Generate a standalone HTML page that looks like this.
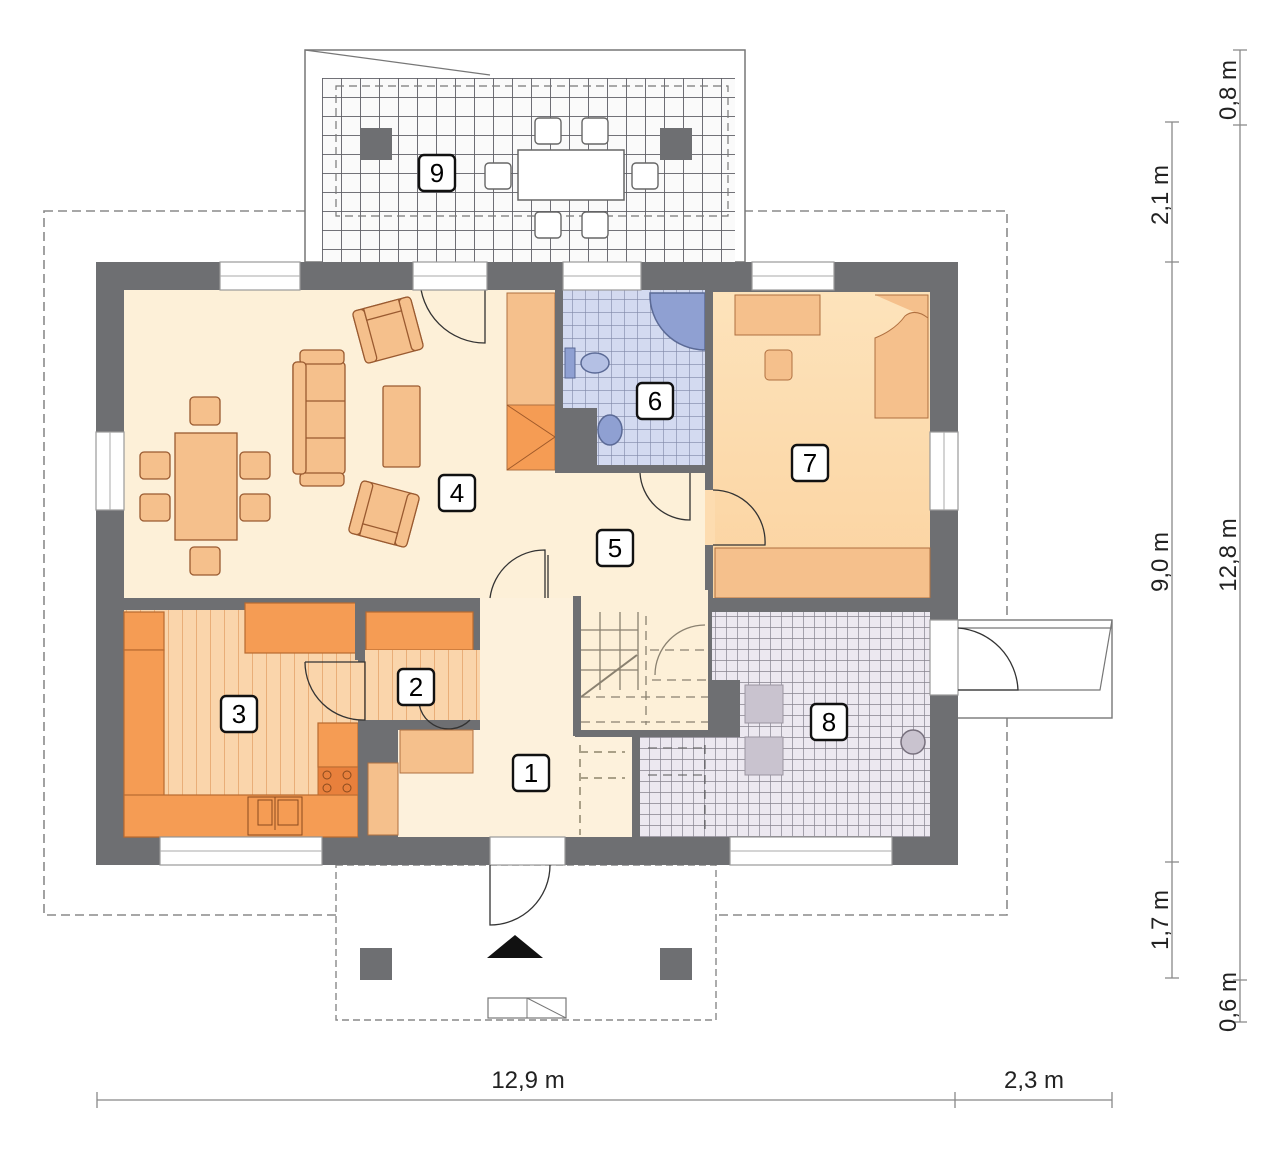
<!DOCTYPE html>
<html><head><meta charset="utf-8"><style>
html,body{margin:0;padding:0;background:#fff;}
svg{display:block;}
text{font-family:"Liberation Sans",sans-serif;}
</style></head><body>
<svg width="1280" height="1149" viewBox="0 0 1280 1149" xmlns="http://www.w3.org/2000/svg">
<defs>
<pattern id="tg" x="322" y="78" width="19" height="19" patternUnits="userSpaceOnUse"><rect width="19" height="19" fill="#fafafa"/><path d="M0 0H19M0 0V19" stroke="#5f5f66" stroke-width="1.8"/></pattern>
<pattern id="ug" width="11" height="11" patternUnits="userSpaceOnUse"><rect width="11" height="11" fill="#ece8f0"/><path d="M0 0H11M0 0V11" stroke="#86838e" stroke-width="1.4"/></pattern>
<pattern id="bg" width="13" height="13" patternUnits="userSpaceOnUse"><rect width="13" height="13" fill="#d3daf0"/><path d="M0 0H13M0 0V13" stroke="#7f88a6" stroke-width="1.2"/></pattern>
<pattern id="st" width="14" height="14" patternUnits="userSpaceOnUse"><rect width="14" height="14" fill="#fad5ab"/><path d="M0 0V14" stroke="#e5a56c" stroke-width="1.6"/></pattern>
<linearGradient id="bed" x1="0" y1="0" x2="0" y2="1"><stop offset="0" stop-color="#fde3bb"/><stop offset="1" stop-color="#fbd3a0"/></linearGradient>
<g id="arm"><rect x="-30" y="-27" width="60" height="54" rx="5" fill="#f5c08c" stroke="#9a5a30" stroke-width="1.3"/><rect x="-30" y="-27" width="12" height="54" rx="4" fill="#f5c08c" stroke="#9a5a30" stroke-width="1.3"/><rect x="18" y="-27" width="12" height="54" rx="4" fill="#f5c08c" stroke="#9a5a30" stroke-width="1.3"/><rect x="-18" y="-27" width="36" height="12" fill="#f5c08c" stroke="#9a5a30" stroke-width="1.3"/></g>
</defs>

<rect x="44" y="211" width="963" height="704" fill="none" stroke="#8a8a8a" stroke-width="1.6" stroke-dasharray="9 5"/>

<!-- terrace -->
<rect x="305" y="50" width="440" height="212" fill="#fff" stroke="#777" stroke-width="1.5"/>
<rect x="322" y="78" width="413" height="184" fill="url(#tg)"/>
<path d="M305 50L490 75" stroke="#777" stroke-width="1.2"/>
<rect x="336" y="86" width="392" height="130" fill="none" stroke="#777" stroke-dasharray="8 5" stroke-width="1.2"/>
<rect x="360" y="128" width="32" height="32" fill="#6e6f72"/>
<rect x="660" y="128" width="32" height="32" fill="#6e6f72"/>
<rect x="518" y="150" width="106" height="50" fill="#fff" stroke="#666" stroke-width="1.5"/>
<g fill="#fff" stroke="#666" stroke-width="1.4">
<rect x="535" y="118" width="26" height="26" rx="4"/><rect x="582" y="118" width="26" height="26" rx="4"/>
<rect x="535" y="212" width="26" height="26" rx="4"/><rect x="582" y="212" width="26" height="26" rx="4"/>
<rect x="485" y="163" width="26" height="26" rx="4"/><rect x="632" y="163" width="26" height="26" rx="4"/>
</g>

<!-- front porch -->
<rect x="336" y="865" width="380" height="155" fill="#fff" stroke="#888" stroke-width="1.4" stroke-dasharray="7 4"/>
<rect x="360" y="948" width="32" height="32" fill="#6e6f72"/>
<rect x="660" y="948" width="32" height="32" fill="#6e6f72"/>
<polygon points="487,958 515,935 543,958" fill="#111"/>
<rect x="488" y="998" width="78" height="20" fill="#fff" stroke="#777" stroke-width="1.2"/>
<path d="M527 998V1018M527 998L566 1018" stroke="#777"/>

<rect x="945" y="620" width="167" height="98" fill="#fff" stroke="#777" stroke-width="1.4"/>
<path d="M958 628H1112M958 690H1100L1112 620" stroke="#777" stroke-width="1.2" fill="none"/>

<rect x="96" y="262" width="862" height="603" fill="#6e6f72"/>

<rect x="124" y="290" width="581" height="308" fill="#fdf0d8"/>
<rect x="480" y="590" width="68" height="140" fill="#fdf0d8"/>
<rect x="548" y="590" width="160" height="22" fill="#fdf0d8"/>

<!-- living furniture -->
<g fill="#f5c08c" stroke="#9a5a30" stroke-width="1.3">
<rect x="175" y="433" width="62" height="107"/>
<rect x="190" y="397" width="30" height="28" rx="4"/>
<rect x="190" y="547" width="30" height="28" rx="4"/>
<rect x="140" y="452" width="30" height="27" rx="4"/>
<rect x="140" y="494" width="30" height="27" rx="4"/>
<rect x="240" y="452" width="30" height="27" rx="4"/>
<rect x="240" y="494" width="30" height="27" rx="4"/>
<rect x="293" y="362" width="52" height="112" rx="4"/>
<rect x="300" y="350" width="44" height="14" rx="4"/>
<rect x="300" y="473" width="44" height="13" rx="4"/>
<rect x="293" y="362" width="13" height="112" rx="4"/>
<path d="M306 401H345M306 438H345"/>
<rect x="383" y="386" width="37" height="81" rx="2"/>
</g>
<use href="#arm" transform="translate(388,330) rotate(-15)"/>
<use href="#arm" transform="translate(384,514) rotate(195)"/>

<rect x="507" y="293" width="48" height="112" fill="#f5c08c" stroke="#b07040"/>
<rect x="507" y="405" width="48" height="65" fill="#f59c54" stroke="#b07040"/>
<path d="M507 405L555 437L507 470" stroke="#a05a2a" fill="none"/>
<rect x="555" y="290" width="150" height="183" fill="#6e6f72"/>
<rect x="563" y="290" width="142" height="118" fill="url(#bg)"/>
<rect x="597" y="408" width="108" height="57" fill="url(#bg)"/>
<path d="M650 293H705V350A55 55 0 0 1 650 293Z" fill="#8fa0d2" stroke="#5b6a96" stroke-width="1.5"/>
<rect x="565" y="348" width="10" height="30" fill="#8fa0d2" stroke="#5b6a96"/>
<ellipse cx="595" cy="363" rx="14" ry="10" fill="#b4c0e4" stroke="#5b6a96" stroke-width="1.5"/>
<ellipse cx="610" cy="430" rx="12" ry="15" fill="#8fa0d2" stroke="#5b6a96" stroke-width="1.5"/>
<rect x="705" y="290" width="8" height="200" fill="#6e6f72"/>
<rect x="713" y="292" width="217" height="306" fill="url(#bed)"/>
<rect x="705" y="490" width="10" height="55" fill="#fddcb0"/>
<rect x="715" y="548" width="215" height="50" fill="#f5c08c" stroke="#b07040"/>
<rect x="735" y="295" width="85" height="40" fill="#f5c08c" stroke="#b07040"/>
<rect x="765" y="350" width="27" height="30" rx="4" fill="#f5c08c" stroke="#b07040"/>
<path d="M875 295H928V418H875V338Q895 330 905 316Q915 308 928 318" fill="#f5c08c" stroke="#b07040"/>

<rect x="124" y="598" width="356" height="12" fill="#6e6f72"/>
<rect x="548" y="598" width="30" height="14" fill="#6e6f72"/>
<rect x="708" y="598" width="237" height="14" fill="#6e6f72"/>

<rect x="124" y="610" width="234" height="227" fill="url(#st)"/>
<g fill="#f59c54" stroke="#b86a30" stroke-width="1.2">
<rect x="124" y="612" width="40" height="38"/>
<rect x="124" y="650" width="40" height="187"/>
<rect x="124" y="795" width="234" height="42"/>
<rect x="245" y="603" width="112" height="50"/>
<rect x="318" y="723" width="40" height="44"/>
<rect x="366" y="612" width="107" height="38"/>
</g>
<rect x="318" y="767" width="40" height="28" fill="#e8803c" stroke="#b86a30"/>
<g fill="none" stroke="#8a4a1e"><circle cx="327" cy="775" r="4"/><circle cx="347" cy="775" r="4"/><circle cx="327" cy="788" r="4"/><circle cx="347" cy="788" r="4"/></g>
<rect x="248" y="797" width="54" height="38" fill="#f59c54" stroke="#8a4a1e"/>
<path d="M275 797V830M258 800H272V825H258ZM278 800H298V825H278Z" stroke="#8a4a1e" fill="none"/>
<rect x="355" y="598" width="10" height="62" fill="#6e6f72"/>
<rect x="365" y="650" width="115" height="70" fill="url(#st)"/>
<rect x="305" y="662" width="60" height="58" fill="url(#st)"/>
<rect x="358" y="720" width="122" height="10" fill="#6e6f72"/>
<path d="M305 662H365V720A58 58 0 0 1 305 662" fill="none" stroke="#333" stroke-width="1.3"/>
<path d="M420 690A30 30 0 0 0 470 720" fill="none" stroke="#333" stroke-width="1.3"/>
<rect x="358" y="730" width="217" height="107" fill="#6e6f72"/>
<rect x="398" y="730" width="177" height="107" fill="#fdf1dc"/>
<rect x="480" y="598" width="95" height="135" fill="#fdf1dc"/>
<rect x="400" y="730" width="73" height="43" fill="#f5c08c" stroke="#b07040"/>
<rect x="368" y="763" width="30" height="72" fill="#f5c08c" stroke="#b07040"/>
<rect x="575" y="737" width="57" height="100" fill="#fdf1dc"/>
<path d="M580 745V835M580 752H625M580 778H625" stroke="#aaa088" stroke-dasharray="8 6" stroke-width="2" fill="none"/>
<path d="M490 598A55 55 0 0 1 545 550V598" fill="none" stroke="#333" stroke-width="1.3"/>
<path d="M548 555V598" stroke="#333" stroke-width="1.3"/>
<path d="M420 278A65 65 0 0 0 485 343V278" fill="none" stroke="#333" stroke-width="1.3"/>
<path d="M640 473A50 50 0 0 0 690 520V473" fill="none" stroke="#333" stroke-width="1.3"/>
<path d="M713 490A52 52 0 0 1 765 545H713" fill="none" stroke="#333" stroke-width="1.3"/>
<rect x="573" y="596" width="8" height="140" fill="#6e6f72"/>
<rect x="581" y="612" width="127" height="118" fill="#fdf0d8"/>
<g stroke="#8a8170" stroke-width="1.3" fill="none">
<path d="M581 630H638M581 650H638M581 670H638M600 612V690M620 612V690M638 612V690"/>
<path d="M581 697L637 655" stroke-width="2"/>
<path d="M646 616V725M581 697H708M581 722H708M650 650H708M652 680H708" stroke-dasharray="9 6"/>
<path d="M655 675A50 50 0 0 1 705 625" />
</g>
<polygon points="712,612 930,612 930,837 640,837 640,737 740,737 740,680 712,680" fill="url(#ug)"/>
<rect x="708" y="680" width="32" height="57" fill="#6e6f72"/>
<rect x="632" y="730" width="8" height="107" fill="#6e6f72"/>
<rect x="575" y="730" width="65" height="7" fill="#6e6f72"/>
<rect x="745" y="685" width="38" height="38" fill="#c9c3cf" stroke="#9a94a0"/>
<rect x="745" y="737" width="38" height="38" fill="#c9c3cf" stroke="#9a94a0"/>
<circle cx="913" cy="742" r="12" fill="#c9c3cf" stroke="#77707d" stroke-width="1.5"/>
<path d="M648 748H708M648 775H708M705 745V830" stroke="#555" stroke-dasharray="9 6" fill="none"/>

<g fill="#fff" stroke="#999" stroke-width="1.2">
<rect x="220" y="262" width="80" height="28"/>
<rect x="413" y="262" width="74" height="28"/>
<rect x="563" y="262" width="78" height="28"/>
<rect x="752" y="262" width="82" height="28"/>
<rect x="96" y="432" width="28" height="78"/>
<rect x="930" y="432" width="28" height="78"/>
<rect x="930" y="620" width="28" height="75"/>
<rect x="160" y="837" width="162" height="28"/>
<rect x="730" y="837" width="162" height="28"/>
<rect x="490" y="837" width="75" height="28"/>
</g>
<path d="M220 276H300M413 276H487M563 276H641M752 276H834M110 432V510M944 432V510M160 851H322M730 851H892" stroke="#aaa" stroke-width="1"/>
<path d="M490 865V925A60 60 0 0 0 550 865" fill="none" stroke="#333" stroke-width="1.3"/>
<path d="M958 628A65 65 0 0 1 1018 690H958" fill="none" stroke="#333" stroke-width="1.3"/>

<g font-size="26" text-anchor="middle">
<g fill="#fff" stroke="#111" stroke-width="2.4">
<rect x="419" y="155" width="36" height="36" rx="5"/>
<rect x="439" y="475" width="36" height="36" rx="5"/>
<rect x="597" y="530" width="36" height="36" rx="5"/>
<rect x="637" y="383" width="36" height="36" rx="5"/>
<rect x="792" y="445" width="36" height="36" rx="5"/>
<rect x="221" y="696" width="36" height="36" rx="5"/>
<rect x="398" y="669" width="36" height="36" rx="5"/>
<rect x="513" y="755" width="36" height="36" rx="5"/>
<rect x="811" y="704" width="36" height="36" rx="5"/>
</g>
<text x="437" y="182">9</text><text x="457" y="502">4</text><text x="615" y="557">5</text>
<text x="655" y="410">6</text><text x="810" y="472">7</text><text x="239" y="723">3</text>
<text x="416" y="696">2</text><text x="531" y="782">1</text><text x="829" y="731">8</text>
</g>

<g stroke="#888" stroke-width="1.3">
<path d="M97 1100H1112M97 1092V1108M955 1092V1108M1112 1092V1108"/>
<path d="M1172 122V978M1165 122H1179M1165 262H1179M1165 862H1179M1165 978H1179"/>
<path d="M1240 50V1022M1233 50H1247M1233 125H1247M1233 980H1247M1233 1022H1247"/>
</g>
<g font-size="24" fill="#222" text-anchor="middle">
<text x="528" y="1088">12,9 m</text>
<text x="1034" y="1088">2,3 m</text>
<text transform="translate(1168,195) rotate(-90)">2,1 m</text>
<text transform="translate(1168,562) rotate(-90)">9,0 m</text>
<text transform="translate(1168,920) rotate(-90)">1,7 m</text>
<text transform="translate(1236,90) rotate(-90)">0,8 m</text>
<text transform="translate(1236,555) rotate(-90)">12,8 m</text>
<text transform="translate(1236,1002) rotate(-90)">0,6 m</text>
</g>
</svg>
</body></html>
